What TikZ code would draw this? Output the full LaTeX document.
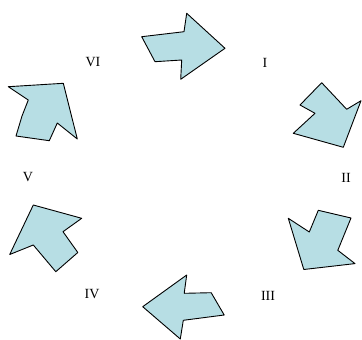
\documentclass[tikz,border=0pt]{standalone}
\usepackage{fontspec}
\setmainfont{Liberation Serif}
\definecolor{arrowblue}{RGB}{183,222,228}
\begin{document}
\begin{tikzpicture}[x=1pt,y=-1pt,line join=round,
    blockarrow/.style={draw=black,fill=arrowblue,line width=0.9pt},
    numeral/.style={font=\fontsize{14}{14}\selectfont,inner sep=0pt}]
		      \useasboundingbox (0,0) rectangle (362,340);
		      % arrows going round clockwise
		      \draw[blockarrow] (141.7,36.7) -- (184,31.7) -- (186.7,13.3) -- (225,48.3) -- (180.7,79.3) -- (181.7,60) -- (155,61.7) -- cycle;
		      \draw[blockarrow] (321.7,82.7) -- (300,105) -- (315,113.3) -- (293.3,133.3) -- (343.3,147.3) -- (361,100.7) -- (346.7,109.3) -- cycle;
		      \draw[blockarrow] (288.3,218.3) -- (309.3,232) -- (318.3,210.3) -- (351,218) -- (337.8,250.3) -- (355,263.6) -- (303.8,269.5) -- cycle;
		      \draw[blockarrow] (142.7,306.7) -- (186.7,275) -- (184.2,293.3) -- (211.2,292.7) -- (224.2,315) -- (183.3,320.3) -- (180.3,339) -- cycle;
		      \draw[blockarrow] (33.3,205) -- (81.7,218.3) -- (63,231.7) -- (77.8,252.5) -- (55.8,271.7) -- (33.3,245) -- (9.7,254.5) -- cycle;
		      \draw[blockarrow] (8.3,86.7) -- (63.3,83.3) -- (77.3,139) -- (57.3,123) -- (49.3,140.7) -- (16,136) -- (22,116) -- (28.3,100) -- cycle;
		      % labels
		      \node[numeral] (one) at (265,63) {I};
		      \node[numeral] (two) at (346,178) {II};
		      \node[numeral] (three) at (268,296) {III};
		      \node[numeral] (four) at (92,294) {IV};
		      \node[numeral] (five) at (28,177) {V};
		      \node[numeral] (six) at (93,62) {VI};
	      \end{tikzpicture}
\end{document}
